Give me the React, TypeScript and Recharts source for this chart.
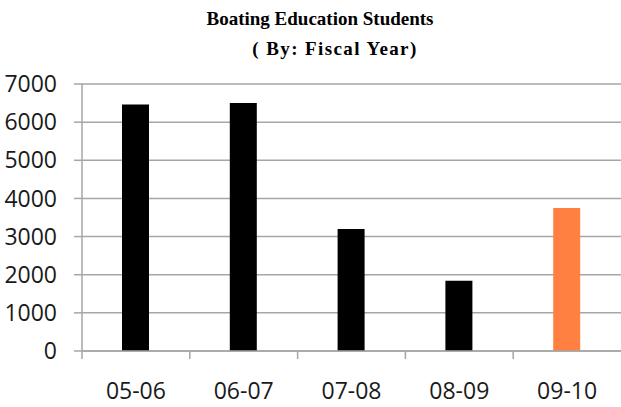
import { BarChart, Bar, XAxis, YAxis, CartesianGrid, Cell } from 'recharts'

const years = ['05-06', '06-07', '07-08', '08-09', '09-10']
const students = [6460, 6500, 3200, 1840, 3750]
const yTicks = [0, 1000, 2000, 3000, 4000, 5000, 6000, 7000]

const data = years.map((year, i) => ({ year, students: students[i] }))

const GRID = '#a6a6a6'
const LABEL = '#1a1a1a'

const XTick = (props: any) => {
  const { x, y, payload } = props
  const half = payload && payload.offset ? payload.offset : 54
  return (
    <g>
      {/* tick marks sit on the category boundaries, not the centres */}
      <line x1={x - half} x2={x - half} y1={y - 8} y2={y} stroke={GRID} strokeWidth={1.5} />
      <text x={x} y={y + 40} textAnchor="middle" fill={LABEL} fontSize={23} fontFamily="Open Sans">
        {payload.value}
      </text>
    </g>
  )
}

export default function App() {
  return (
    <div style={{ position: 'absolute', left: 0, top: 0, width: 621, height: 407, background: '#fff' }}>
      <svg width={621} height={70} style={{ position: 'absolute', left: 0, top: 0 }}>
        <text x={320} y={25} textAnchor="middle" fontFamily="Liberation Serif" fontWeight="bold" fontSize={19} fill="#000">
          Boating Education Students
        </text>
        <text x={335} y={55} textAnchor="middle" fontFamily="Liberation Serif" fontWeight="bold" fontSize={19} fill="#000" letterSpacing={1.4}>
          ( By: Fiscal Year)
        </text>
      </svg>
      <BarChart width={621} height={407} data={data} margin={{ top: 84, right: 0, left: 0, bottom: 0 }} barSize={27}>
        <CartesianGrid vertical={false} stroke={GRID} strokeWidth={1.5} />
        <XAxis
          dataKey="year"
          height={56}
          axisLine={{ stroke: GRID, strokeWidth: 1.5 }}
          tickLine={false}
          tickSize={8}
          tickMargin={0}
          tick={<XTick />}
          interval={0}
        />
        <YAxis
          width={82}
          domain={[0, 7000]}
          ticks={yTicks}
          interval={0}
          axisLine={{ stroke: GRID, strokeWidth: 1.5 }}
          tickLine={{ stroke: GRID, strokeWidth: 1.5 }}
          tickSize={8}
          tickMargin={17}
          tick={{ fill: LABEL, fontSize: 23, fontFamily: 'Open Sans' }}
        />
        <Bar dataKey="students" isAnimationActive={false}>
          {data.map((d) => (
            <Cell key={d.year} fill={d.year === '09-10' ? '#ff8040' : '#000000'} />
          ))}
        </Bar>
      </BarChart>
    </div>
  )
}
